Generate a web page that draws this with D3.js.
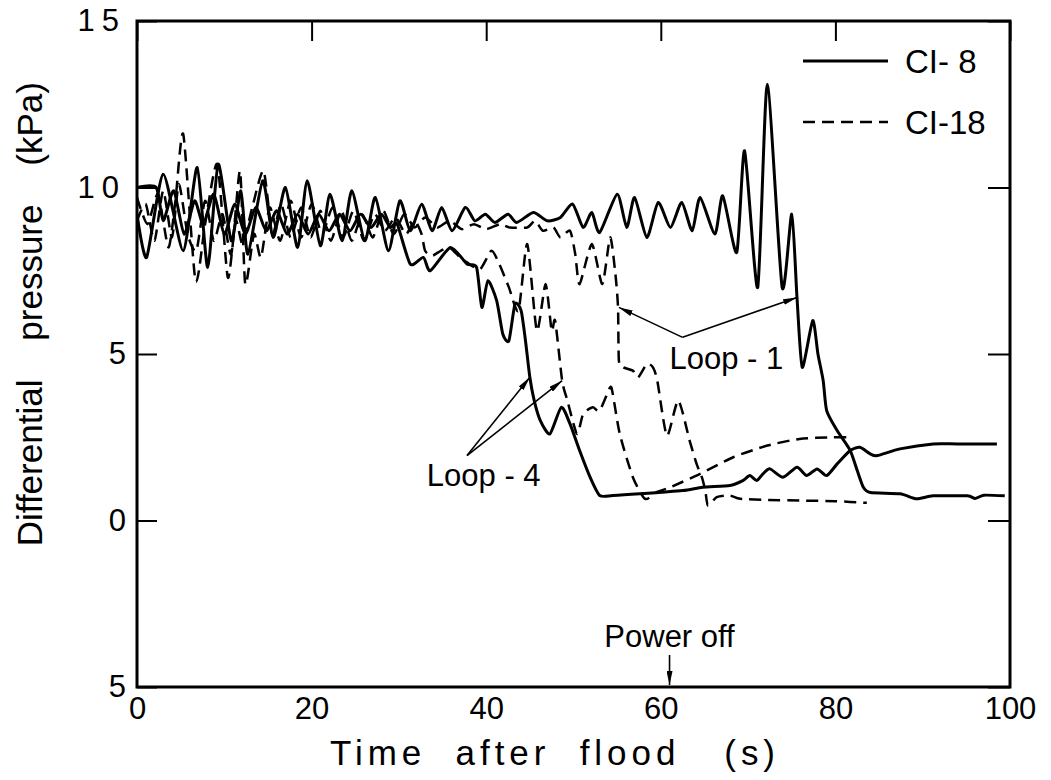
<!DOCTYPE html>
<html>
<head>
<meta charset="utf-8">
<title>Differential pressure after flood</title>
<script src="https://d3js.org/d3.v7.min.js"></script>
<style>
  body { margin: 0; background: #fff; }
  svg { display: block; font-family: "Liberation Sans", Arial, sans-serif; }
  .axis text { font-size: 31px; fill: #000; }
  .axis line { stroke: #000; stroke-width: 2; }
  .y-axis text.wide { letter-spacing: 7px; }
  .frame { fill: none; stroke: #000; stroke-width: 3; }
  .series { fill: none; stroke: #000; stroke-linejoin: round; }
  .solid { stroke-width: 3; }
  .dashed { stroke-width: 2.5; stroke-dasharray: 12 7; }
  .title { font-size: 35px; }
  .note { font-size: 31px; }
  .legend text { font-size: 33px; }
  .pointer { stroke: #000; stroke-width: 1.6; fill: none; }
</style>
</head>
<body>
<svg id="chart" width="1051" height="780"></svg>
<script>

  /* ticks */
  const xTicks = [0, 20, 40, 60, 80, 100];
  const yTicks = [-5, 0, 5, 10, 15];
  const yTickLabels = ["5", "0", "5", "10", "15"];

  const legendNames = ["CI- 8", "CI-18"];

  /* [time s, kPa] */
  const ci8Loop1 = [[0,9.2],[1.1,7.9],[3.0,10.4],[5.3,8.1],[6.9,10.6],[8.1,7.6],[9.3,10.7],[10.8,8.4],[11.9,9.9],[12.7,8.0],[14.4,10.2],[15.6,8.5],[17.0,10.0],[18.4,8.2],[19.5,10.2],[21.0,8.25],[22.1,9.8],[23.5,8.4],[24.6,9.9],[26.1,8.4],[27.3,9.7],[28.8,8.1],[30.1,9.6],[31.3,8.7],[32.6,9.5],[33.8,8.7],[34.9,9.4],[36.1,8.7],[37.6,9.4],[38.7,9.0],[39.9,9.2],[41.0,8.95],[42.5,9.2],[43.5,8.95],[45.4,9.25],[47.0,9.0],[48.5,9.1],[49.9,9.5],[51.1,8.8],[52.1,9.25],[53.0,8.65],[55.0,9.8],[56.1,8.8],[57.0,9.7],[58.4,8.5],[59.7,9.55],[61.1,8.8],[62.4,9.55],[63.6,8.7],[64.5,9.7],[66.2,8.6],[67.1,9.75],[68.7,8.05],[69.6,11.1],[71.1,7.0],[72.2,13.1],[73.9,7.0],[75.0,9.2],[75.6,6.7],[76.2,4.6],[77.4,6.0],[78.0,5.0],[78.6,4.2],[79.0,3.3],[80.2,2.7],[81.7,2.1],[82.5,1.5],[83.2,1.0],[84.0,0.84],[87.4,0.8],[89.3,0.65],[91.2,0.74],[95.1,0.74],[96.0,0.66],[97.0,0.76],[99.4,0.74]];

  const ci8Loop4 = [[0,10.0],[2.2,10.0],[3.0,9.0],[4.2,9.9],[5.4,8.6],[6.6,9.6],[7.6,8.9],[8.8,9.8],[10.0,8.6],[11.2,9.5],[12.4,8.6],[13.6,9.4],[14.8,8.7],[16.0,9.3],[17.2,8.6],[18.4,9.2],[19.6,8.6],[20.8,9.2],[22.0,8.7],[23.2,9.2],[24.4,8.7],[25.6,9.2],[26.8,8.8],[28.0,9.2],[29.0,8.8],[29.8,8.9],[31.3,7.7],[32.8,7.9],[33.6,7.5],[35.9,8.2],[37.8,7.7],[38.9,7.6],[39.5,6.4],[40.2,7.2],[41.2,6.6],[41.9,5.6],[42.6,5.4],[43.3,6.5],[44.0,6.3],[44.5,5.4],[45.0,4.3],[45.5,3.6],[46.2,3.0],[47.3,2.6],[48.6,3.4],[49.6,2.9],[50.7,2.1],[51.9,1.3],[53.0,0.75],[54.5,0.75],[57.6,0.8],[62.5,0.9],[64.8,1.0],[67.9,1.05],[69.4,1.2],[70.2,1.35],[71.0,1.2],[71.7,1.4],[72.5,1.55],[74.0,1.3],[75.6,1.6],[76.7,1.35],[77.9,1.55],[79.0,1.35],[80.2,1.7],[81.7,2.1],[82.8,2.2],[84.0,2.0],[84.8,1.95],[87.4,2.15],[91.2,2.3],[94.0,2.3],[98.5,2.3]];

  const ci18Loop1 = [[0,9.7],[1.2,8.9],[2.4,9.8],[3.6,8.2],[4.4,9.6],[5.3,11.6],[6.7,7.2],[7.8,8.9],[9.2,10.7],[10.4,7.3],[11.3,9.0],[12.1,8.3],[13.2,9.4],[14.5,10.5],[15.5,8.6],[16.5,9.5],[17.6,8.5],[18.8,9.4],[19.9,8.5],[21.0,9.3],[22.2,8.4],[23.4,9.3],[24.6,8.4],[25.8,9.2],[27.0,8.5],[28.2,9.3],[29.4,8.6],[30.6,9.2],[31.8,8.8],[33.0,9.1],[34.4,8.8],[35.8,9.0],[37.2,8.75],[38.6,8.9],[40.0,8.75],[41.6,8.9],[42.7,8.8],[44.7,8.8],[45.6,9.0],[46.5,8.7],[47.7,8.8],[48.5,8.5],[49.6,8.7],[50.2,8.0],[50.7,7.1],[52.1,8.3],[53.3,7.1],[54.2,8.5],[54.8,7.4],[55.1,6.4],[55.2,4.8],[55.7,4.6],[56.8,4.5],[57.4,4.3],[58.4,4.7],[59.1,4.6],[59.6,4.2],[60.7,2.55],[62.0,3.6],[63.3,2.4],[64.1,1.7],[64.7,1.3],[65.1,0.9],[65.4,0.45],[66.4,0.7],[67.9,0.75],[69.1,0.65],[72.2,0.62],[75.9,0.6],[80.0,0.58],[83.6,0.53]];

  const ci18Loop4 = [[0,9.0],[1.0,9.5],[2.0,8.4],[3.0,9.9],[4.0,8.5],[4.8,10.1],[5.8,8.6],[6.8,8.1],[7.8,9.6],[8.8,8.4],[9.8,9.2],[10.8,8.0],[11.8,10.5],[12.4,7.1],[13.4,8.6],[14.2,7.9],[15.2,9.4],[16.4,8.4],[17.6,9.6],[18.8,8.5],[20.0,9.5],[21.2,8.6],[22.4,9.4],[23.6,8.5],[24.8,9.3],[26.0,8.4],[27.2,9.2],[28.4,8.7],[29.6,9.1],[30.8,8.6],[31.8,9.0],[32.6,8.6],[33.0,8.1],[33.8,7.95],[34.8,8.1],[35.8,8.2],[37.0,7.9],[37.8,7.75],[39.3,7.55],[40.6,8.1],[41.5,7.7],[42.6,7.0],[43.7,6.3],[44.7,8.3],[45.8,5.7],[46.8,7.1],[47.5,5.7],[47.9,6.0],[48.7,4.2],[49.3,3.6],[50.4,2.6],[51.1,3.2],[52.2,3.4],[53.0,3.3],[54.2,4.0],[54.5,3.8],[55.3,2.6],[56.8,1.3],[58.2,0.65],[59.5,0.85],[61.1,1.0],[64.5,1.4],[68.3,1.9],[72.2,2.25],[75.9,2.45],[79.7,2.5],[82.0,2.5]];

  /* annotations: pointer vertex and the curve points it marks */
  const loop1Pointer = { label: "Loop - 1", at: [61.0, 4.55], from: [62.5, 5.5], to: [[55.2, 6.4], [75.6, 6.7]] };
  const loop4Pointer = { label: "Loop - 4", at: [33.2, 1.05], from: [37.8, 1.95], to: [[45.0, 4.3], [48.7, 4.2]] };
  const powerOff = 61;

  const margin = { top: 21, left: 137, right: 41, bottom: 93 };
  const width = 1051 - margin.left - margin.right;
  const height = 780 - margin.top - margin.bottom;

  const x = d3.scaleLinear().domain([0, 100]).range([0, width]);
  const y = d3.scaleLinear().domain([-5, 15]).range([height, 0]);

  const root = d3.select('#chart');

  root.append('defs').append('marker')
    .attr('id', 'head')
    .attr('viewBox', '0 0 14 6')
    .attr('refX', 14).attr('refY', 3)
    .attr('markerWidth', 14).attr('markerHeight', 6)
    .attr('markerUnits', 'userSpaceOnUse')
    .attr('orient', 'auto')
    .append('path').attr('d', 'M0,0L14,3L0,6Z').attr('fill', '#000');

  root.select('defs').append('clipPath').attr('id', 'plot')
    .append('rect').attr('width', width).attr('height', height);

  const svg = root.append('g')
    .attr('transform', `translate(${margin.left},${margin.top})`);

  /* axes: labels below, inward ticks on top and both sides */
  svg.append('g')
    .attr('class', 'axis x-axis')
    .attr('transform', `translate(0,${height})`)
    .call(d3.axisBottom(x).tickValues(xTicks).tickSize(0).tickPadding(10));

  svg.append('g')
    .attr('class', 'axis')
    .call(d3.axisTop(x).tickValues(xTicks).tickSizeInner(-20).tickSizeOuter(0).tickFormat(''));

  svg.append('g')
    .attr('class', 'axis y-axis')
    .call(d3.axisLeft(y).tickValues(yTicks).tickFormat((d, i) => yTickLabels[i])
      .tickSizeInner(-20).tickSizeOuter(0).tickPadding(11));

  // two-digit labels are drawn spread out, as in the original lettering
  svg.selectAll('.y-axis .tick text')
    .classed('wide', d => Math.abs(d) >= 10);

  svg.append('g')
    .attr('class', 'axis')
    .attr('transform', `translate(${width},0)`)
    .call(d3.axisRight(y).tickValues(yTicks).tickSizeInner(-22).tickSizeOuter(0).tickFormat(''));

  svg.selectAll('.domain').remove();

  svg.append('rect')
    .attr('class', 'frame')
    .attr('width', width)
    .attr('height', height);

  /* curves */
  const line = d3.line()
    .x(d => x(d[0]))
    .y(d => y(d[1]))
    .curve(d3.curveCardinal.tension(0.35));

  const curves = [
    { values: ci8Loop1, cls: 'solid' },
    { values: ci8Loop4, cls: 'solid' },
    { values: ci18Loop1, cls: 'dashed' },
    { values: ci18Loop4, cls: 'dashed' }
  ];

  svg.append('g').attr('clip-path', 'url(#plot)')
    .selectAll('path')
    .data(curves)
    .enter()
    .append('path')
    .attr('class', d => 'series ' + d.cls)
    .attr('d', d => line(d.values));

  /* loop pointers */
  [loop1Pointer, loop4Pointer].forEach(p => {
    p.to.forEach(t => {
      svg.append('line')
        .attr('class', 'pointer')
        .attr('x1', x(p.from[0])).attr('y1', y(p.from[1]))
        .attr('x2', x(t[0])).attr('y2', y(t[1]))
        .attr('marker-end', 'url(#head)');
    });
    svg.append('text')
      .attr('class', 'note')
      .attr('x', x(p.at[0]))
      .attr('y', y(p.at[1]))
      .text(p.label);
  });

  /* power off */
  svg.append('text')
    .attr('class', 'note')
    .attr('x', x(powerOff))
    .attr('y', height - 40)
    .attr('text-anchor', 'middle')
    .text('Power off');

  svg.append('line')
    .attr('class', 'pointer')
    .attr('x1', x(powerOff)).attr('y1', height - 32)
    .attr('x2', x(powerOff)).attr('y2', height - 2)
    .attr('marker-end', 'url(#head)');

  /* legend */
  const legend = root.append('g').attr('class', 'legend');
  legend.selectAll('line')
    .data(legendNames)
    .enter()
    .append('line')
    .attr('class', (d, i) => 'series ' + (i == 0 ? 'solid' : 'dashed'))
    .attr('x1', 803).attr('x2', 888)
    .attr('y1', (d, i) => 61 + i * 61)
    .attr('y2', (d, i) => 61 + i * 61);
  legend.selectAll('text')
    .data(legendNames)
    .enter()
    .append('text')
    .attr('x', 905)
    .attr('y', (d, i) => 73 + i * 61)
    .text(d => d);

  /* axis titles */
  root.append('text')
    .attr('class', 'title')
    .attr('x', 330).attr('y', 765)
    .attr('textLength', 445)
    .attr('lengthAdjust', 'spacing')
    .style('white-space', 'pre')
    .text('Time  after  flood   (s)');

  root.append('text')
    .attr('class', 'title')
    .attr('transform', 'translate(42,82) rotate(-90)')
    .attr('text-anchor', 'end')
    .style('white-space', 'pre')
    .text('Differential    pressure    (kPa)');

</script>
</body>
</html>
